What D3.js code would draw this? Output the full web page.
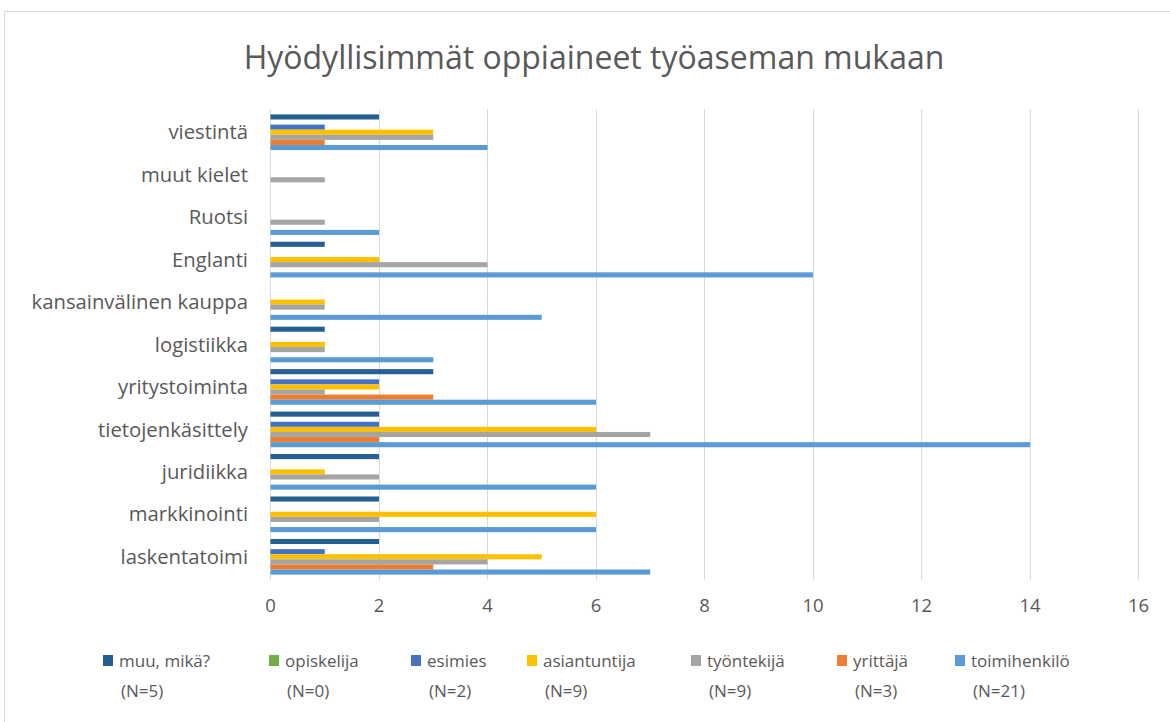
<!DOCTYPE html>
<html>
<head>
<meta charset="utf-8">
<script src="https://cdn.jsdelivr.net/npm/d3@7"></script>
<style>
  html, body { margin: 0; padding: 0; background: #fff; }
  svg { display: block; }
  text { font-family: "Open Sans", "Liberation Sans", sans-serif; fill: #595959; }
</style>
</head>
<body>
<svg id="chart" width="1170" height="722"></svg>
<script>
// ---- Data ----
const title = "Hyödyllisimmät oppiaineet työaseman mukaan";
const categories = ["viestintä", "muut kielet", "Ruotsi", "Englanti", "kansainvälinen kauppa",
  "logistiikka", "yritystoiminta", "tietojenkäsittely", "juridiikka", "markkinointi", "laskentatoimi"];
const seriesNames = ["muu, mikä?", "opiskelija", "esimies", "asiantuntija", "työntekijä", "yrittäjä", "toimihenkilö"];
const seriesN = ["(N=5)", "(N=0)", "(N=2)", "(N=9)", "(N=9)", "(N=3)", "(N=21)"];
const muu          = [2, 0, 0, 1, 0, 1, 3, 2, 2, 2, 2];
const opiskelija   = [0, 0, 0, 0, 0, 0, 0, 0, 0, 0, 0];
const esimies      = [1, 0, 0, 0, 0, 0, 2, 2, 0, 0, 1];
const asiantuntija = [3, 0, 0, 2, 1, 1, 2, 6, 1, 6, 5];
const tyontekija   = [3, 1, 1, 4, 1, 1, 1, 7, 2, 2, 4];
const yrittaja     = [1, 0, 0, 0, 0, 0, 3, 2, 0, 0, 3];
const toimihenkilo = [4, 0, 2, 10, 5, 3, 6, 14, 6, 6, 7];
const xTicks = [0, 2, 4, 6, 8, 10, 12, 14, 16];

const seriesValues = [muu, opiskelija, esimies, asiantuntija, tyontekija, yrittaja, toimihenkilo];
const colors = ["#255E91", "#70AD47", "#4472C4", "#FFC000", "#A5A5A5", "#ED7D31", "#5B9BD5"];

// ---- Layout ----
const svg = d3.select("#chart");
const plot = { left: 270, right: 1138, top: 111, bottom: 578 };

// chart border
svg.append("rect")
  .attr("x", 4.5).attr("y", 11.5).attr("width", 1170).attr("height", 720)
  .attr("fill", "#fff").attr("stroke", "#D9D9D9").attr("stroke-width", 1);

// title
svg.append("text")
  .attr("x", 594).attr("y", 69)
  .attr("text-anchor", "middle")
  .style("font-size", "32px")
  .text(title);

const x = d3.scaleLinear().domain([0, 16]).range([plot.left, plot.right]);
const y = d3.scaleBand().domain(categories).range([plot.top, plot.bottom])
  .paddingInner(0.16).paddingOuter(0.08);
const ySub = d3.scaleBand().domain(seriesNames).range([0, y.bandwidth()]).padding(0);

// gridlines
svg.append("g").selectAll("line").data(xTicks).join("line")
  .attr("x1", d => Math.round(x(d)) + 0.5).attr("x2", d => Math.round(x(d)) + 0.5)
  .attr("y1", plot.top - 2).attr("y2", plot.bottom + 2)
  .attr("stroke", "#D9D9D9").attr("stroke-width", 1);

// x axis labels
const xAxis = d3.axisBottom(x).tickValues(xTicks).tickSize(0).tickPadding(0).tickFormat(d3.format("d"));
const gx = svg.append("g").attr("transform", `translate(0, ${plot.bottom + 21})`).call(xAxis);
gx.select(".domain").remove();
gx.selectAll("text").style("font-size", "18.5px").attr("fill", "#595959")
  .style("font-family", "\"Open Sans\", sans-serif");

// y labels
svg.append("g").selectAll("text").data(categories).join("text")
  .attr("x", 248)
  .attr("y", d => y(d) + y.bandwidth() / 2)
  .attr("dy", "0.35em")
  .attr("text-anchor", "end")
  .style("font-size", "20.3px")
  .text(d => d);

// bars
const groups = svg.append("g").selectAll("g").data(categories).join("g")
  .attr("transform", d => `translate(0, ${y(d)})`);
groups.selectAll("rect")
  .data((c, ci) => seriesNames.map((s, si) => ({ s, si, v: seriesValues[si][ci] })))
  .join("rect")
  .attr("x", x(0) + 0.5)
  .attr("y", d => ySub(d.s))
  .attr("width", d => Math.max(0, x(d.v) - x(0)))
  .attr("height", ySub.bandwidth())
  .attr("fill", d => colors[d.si]);

// legend
const legendX = [103, 269, 411, 527, 691, 837, 955];
const legend = svg.append("g").selectAll("g").data(seriesNames).join("g")
  .attr("transform", (d, i) => `translate(${legendX[i]}, 0)`);
legend.append("rect")
  .attr("x", 0).attr("y", 655).attr("width", 10).attr("height", 11)
  .attr("fill", (d, i) => colors[i]);
legend.append("text")
  .attr("x", 16).attr("y", 667)
  .style("font-size", "17px")
  .text(d => d);
legend.append("text")
  .attr("x", 18).attr("y", 697)
  .style("font-size", "17px")
  .text((d, i) => seriesN[i]);
</script>
</body>
</html>
